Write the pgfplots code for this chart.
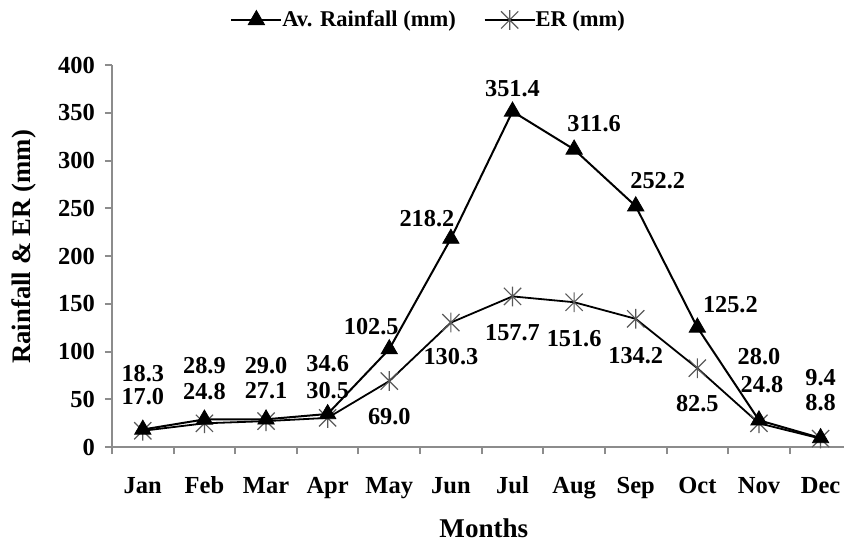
\documentclass[border=0pt]{standalone}
\usepackage{fontspec}
\setmainfont{Liberation Serif}
\usepackage{pgfplots}
\pgfplotsset{compat=1.18}
\usepackage{pgfplotstable}

\pgfdeclareplotmark{exstar}{%
  \pgfpathmoveto{\pgfqpoint{-\pgfplotmarksize}{-\pgfplotmarksize}}%
  \pgfpathlineto{\pgfqpoint{\pgfplotmarksize}{\pgfplotmarksize}}%
  \pgfpathmoveto{\pgfqpoint{-\pgfplotmarksize}{\pgfplotmarksize}}%
  \pgfpathlineto{\pgfqpoint{\pgfplotmarksize}{-\pgfplotmarksize}}%
  \pgfpathmoveto{\pgfqpoint{0pt}{-1.15\pgfplotmarksize}}%
  \pgfpathlineto{\pgfqpoint{0pt}{1.15\pgfplotmarksize}}%
  \pgfusepathqstroke
}

\pgfplotstableread{
x y lab dx dy
0 18.3 18.3 0 28
1 28.9 28.9 0 27
2 29.0 29.0 0 27
3 34.6 34.6 0 25
4 102.5 102.5 -9 11.5
5 218.2 218.2 -12 10
6 351.4 351.4 0 11.5
7 311.6 311.6 10 13
8 252.2 252.2 11 13
9 125.2 125.2 16.5 11.5
10 28.0 28.0 0 32
11 9.4 9.4 0 30
}\rain

\pgfplotstableread{
x y lab dx dy
0 17.0 17.0 0 17
1 24.8 24.8 0 16
2 27.1 27.1 0 15
3 30.5 30.5 0 13.5
4 69.0 69.0 0 -17.5
5 130.3 130.3 0 -17
6 157.7 157.7 0 -18
7 151.6 151.6 0 -18
8 134.2 134.2 0 -18.5
9 82.5 82.5 0 -17.5
10 24.8 24.8 1.5 19.5
11 8.8 8.8 0 18
}\er

\pgfplotsset{
  lblplot/.style={
    nodes near coords,
    point meta=explicit symbolic,
    visualization depends on={\thisrow{dx}\as\dx},
    visualization depends on={\thisrow{dy}\as\dy},
    every node near coord/.append style={anchor=center,
      xshift=\dx*1bp, yshift=\dy*1bp,
      font=\fontsize{12.2}{14}\selectfont\bfseries, black, inner sep=0pt},
  }
}

\begin{document}
\begin{tikzpicture}
\useasboundingbox (-56bp,-47bp) rectangle (366bp,223.5bp);
\begin{axis}[
  at={(0,0)}, anchor=south west,
  scale only axis, width=366bp, height=191bp,
  xmin=-0.5, xmax=11.38, ymin=0, ymax=400,
  axis x line*=bottom, axis y line*=left,
  axis line style={black!45, line width=1.1bp},
  xtick={0,...,11},
  xticklabels={Jan,Feb,Mar,Apr,May,Jun,Jul,Aug,Sep,Oct,Nov,Dec},
  major x tick style={draw=none},
  minor xtick={-0.5,0.5,...,10.5},
  ytick={0,50,...,400},
  tick align=outside,
  tick style={black!45, line width=1bp},
  major tick length=3.5bp, minor tick length=3.5bp,
  /pgf/number format/assume math mode=true,
  every tick label/.append style={font=\fontsize{12.3}{14}\selectfont\bfseries},
  xticklabel style={anchor=base, yshift=-19.5bp},
  yticklabel style={xshift=-1.5bp},
  xlabel={Months},
  ylabel={Rainfall \& ER (mm)},
  xlabel style={at={(axis description cs:0.508,0)}, anchor=center, yshift=-40.5bp,
    font=\fontsize{13.6}{15}\selectfont\bfseries},
  ylabel style={at={(axis description cs:-0.12,0.524)}, anchor=center,
    font=\fontsize{13.4}{15}\selectfont\bfseries},
  legend columns=2,
  reverse legend,
  legend image code/.code={%
    \draw[mark repeat=2, mark phase=2, #1] plot coordinates {(0bp,0bp) (12.5bp,0bp) (25bp,0bp)};},
  legend style={draw=none, fill=none, at={(axis description cs:0.434,1.118)}, anchor=center,
    font=\fontsize{11.3}{13}\selectfont\bfseries,
    /tikz/every even column/.append style={column sep=12bp},
    /tikz/every odd column/.append style={column sep=-2bp}},
  legend cell align=left,
  clip=false,
]
\addplot[lblplot, black, line width=0.9bp, mark=exstar, mark size=4.3bp,
  mark options={black!65, line width=0.6bp}]
  table[x=x, y=y, meta=lab] {\er};
\addlegendentry{ER (mm)}
\addplot[lblplot, black, line width=1bp, mark=triangle*, mark size=4.7bp,
  mark options={fill=black, line width=0.4bp}]
  table[x=x, y=y, meta=lab] {\rain};
\addlegendentry{Av. Rainfall (mm)}
\end{axis}
\end{tikzpicture}
\end{document}
